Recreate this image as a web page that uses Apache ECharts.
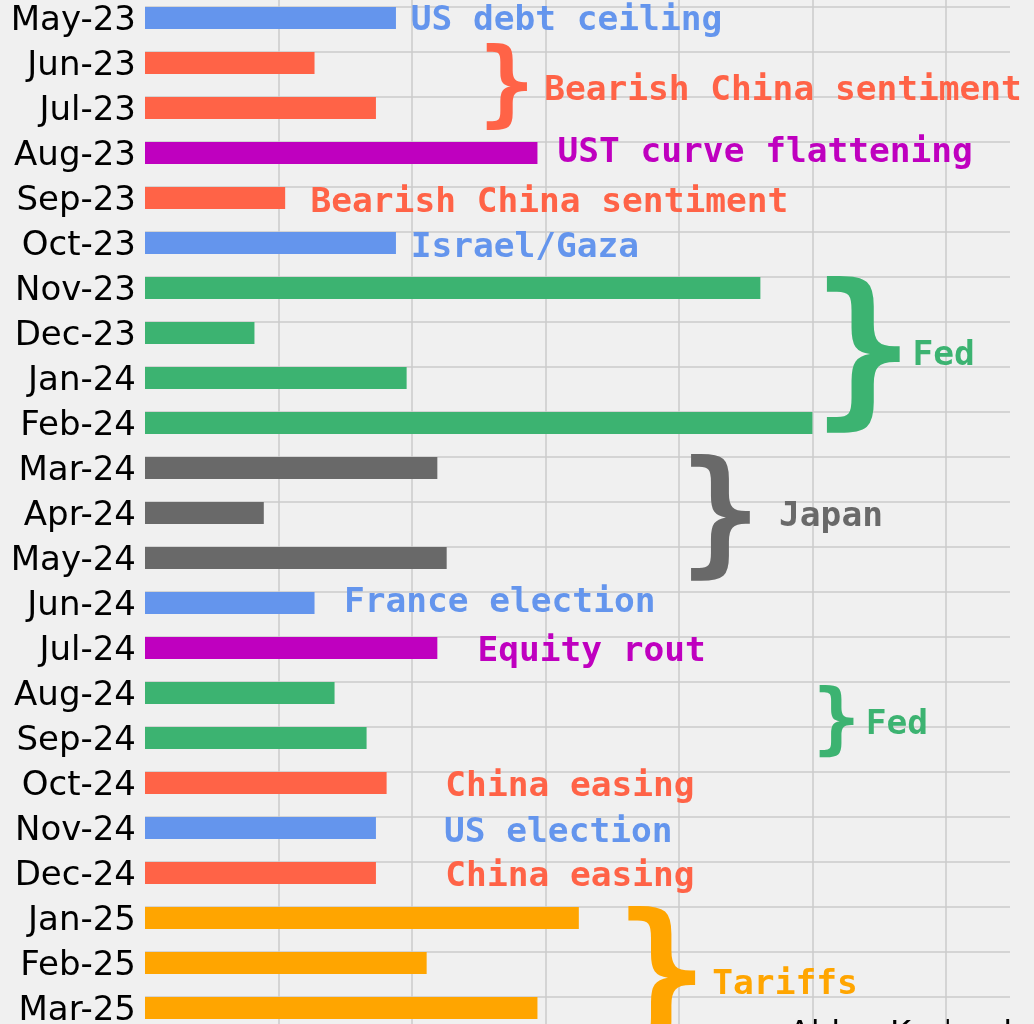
<!DOCTYPE html>
<html>
<head>
<meta charset="utf-8">
<script src="https://cdn.jsdelivr.net/npm/echarts@6/dist/echarts.min.js"></script>
<style>
html,body{margin:0;padding:0;background:#f0f0f0;}
#c{width:1034px;height:1024px;}
</style>
</head>
<body>
<div id="c"></div>
<script>
// ---- data ----
var categories = ['May-23','Jun-23','Jul-23','Aug-23','Sep-23','Oct-23','Nov-23','Dec-23',
  'Jan-24','Feb-24','Mar-24','Apr-24','May-24','Jun-24','Jul-24','Aug-24','Sep-24','Oct-24',
  'Nov-24','Dec-24','Jan-25','Feb-25','Mar-25'];
var values = [18.8,12.7,17.3,29.4,10.5,18.8,46.1,8.2,19.6,50.0,21.9,8.9,22.6,12.7,21.9,14.2,16.6,18.1,17.3,17.3,32.5,21.1,29.4];
var barGroup = ['blue','red','red','purple','red','blue','green','green','green','green','gray','gray','gray',
  'blue','purple','green','green','red','blue','red','orange','orange','orange'];
var palette = {blue:'#6495ED', red:'#FF6347', purple:'#BF00BF', green:'#3CB371', gray:'#696969', orange:'#FFA500'};

// annotation labels: text, x value, category position, colour group
var labelText = ['US debt ceiling','Bearish China sentiment','UST curve flattening','Bearish China sentiment',
  'Israel/Gaza','Fed','Japan','France election','Equity rout','Fed','China easing','US election','China easing','Tariffs'];
var labelX = [19.9,29.9,30.9,12.4,19.9,57.5,47.5,14.9,24.9,54.0,22.5,22.4,22.5,42.5];
var labelY = [0,1.55,2.93,4.04,5.04,7.44,11.02,12.93,14.02,15.64,17.02,18.04,19.02,21.42];
var labelGroup = ['blue','red','purple','red','blue','green','gray','blue','purple','green','red','blue','red','orange'];

// braces: x centre, category centre, span (in categories), colour group
var braceX = [27.1,53.8,43.1,51.8,38.7];
var braceY = [1.51,7.44,11.07,15.62,21.31];
var braceSpan = [1.93,3.49,2.82,1.62,3.2];
var braceGroup = ['red','green','gray','green','orange'];

var credit = 'Alden Kurland';

// ---- chart ----
var chart = echarts.init(document.getElementById('c'), null, {renderer:'canvas'});
var pxPerCat = 45;

var barData = values.map(function(v,i){
  return {value:v, itemStyle:{color:palette[barGroup[i]]}};
});
var labelData = labelText.map(function(t,i){
  return {name:t, value:[labelX[i], labelY[i]],
    label:{color:palette[labelGroup[i]]}};
});
var braceData = braceX.map(function(x,i){
  var fs = braceSpan[i]*pxPerCat/0.925;
  return {name:'}', value:[x, braceY[i]],
    label:{color:palette[braceGroup[i]], fontSize: fs, offset:[0, 0.045*fs]}};
});

chart.setOption({
  backgroundColor:'#f0f0f0',
  animation:false,
  grid:{left:145, right:24, top:-4.5, bottom:-6.5, containLabel:false, outerBoundsMode:'none'},
  xAxis:{type:'value', min:0, max:64.8, interval:10,
    axisLabel:{show:false}, axisLine:{show:false}, axisTick:{show:false},
    splitLine:{show:true, showMinLine:false, showMaxLine:false, lineStyle:{color:'#cbcbcb', width:1.5}}},
  yAxis:[
    {type:'category', inverse:true, data:categories,
      axisLine:{show:false}, axisTick:{show:false}, splitLine:{show:false},
      axisLabel:{interval:0, hideOverlap:false, fontSize:34, color:'#000', margin:9,
        fontFamily:'DejaVu Sans', verticalAlign:'top', lineHeight:6}},
    {type:'value', inverse:true, min:-0.5, max:22.5, show:false}
  ],
  series:[
    {type:'bar', data:[], yAxisIndex:0, z:0,
      markLine:{silent:true, symbol:'none', z:1, label:{show:false},
        lineStyle:{color:'#cbcbcb', width:1.5, type:'solid'},
        data:categories.map(function(c){return {yAxis:c};})}},
    {type:'bar', data:barData, barWidth:22, yAxisIndex:0, z:2},
    {type:'scatter', yAxisIndex:1, symbolSize:0, data:labelData, z:3,
      itemStyle:{opacity:1},
      label:{show:true, position:'right', distance:0, formatter:'{b}', opacity:1,
        fontFamily:'DejaVu Sans Mono', fontWeight:'bold', fontSize:34.5, offset:[0,3]}},
    {type:'scatter', yAxisIndex:1, symbolSize:0, data:braceData, z:3,
      itemStyle:{opacity:1},
      label:{show:true, position:'inside', formatter:'{b}', opacity:1,
        fontFamily:'DejaVu Sans Mono', fontWeight:'bold'}}
  ],
  graphic:[{type:'text', right:22, top:1019,
    style:{text:credit, fontSize:32, fill:'#000', fontFamily:'DejaVu Sans'}}]
});
</script>
</body>
</html>
